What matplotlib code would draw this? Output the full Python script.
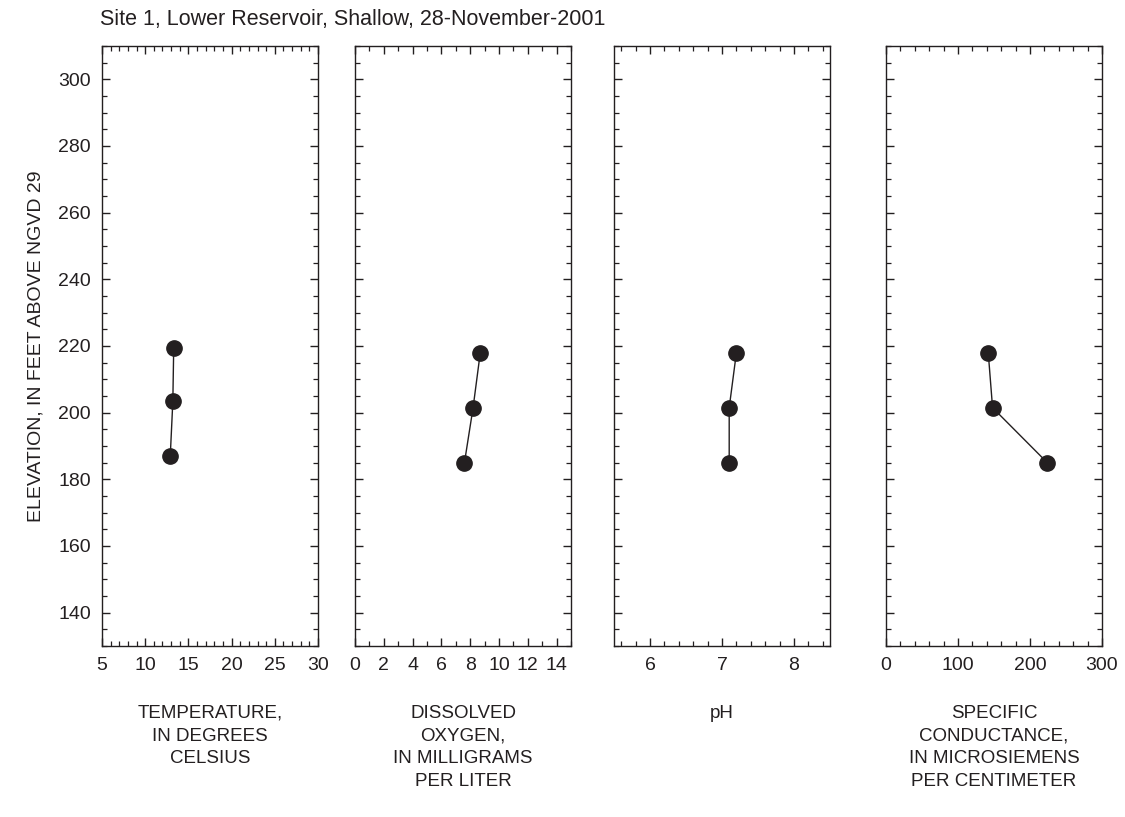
import matplotlib
matplotlib.use("Agg")
import matplotlib.pyplot as plt
from matplotlib.ticker import MultipleLocator

plt.rcParams['font.family'] = ['Liberation Sans', 'DejaVu Sans']

# elevations of the three sampling depths (feet above NGVD 29)
elev_temp = [219.5, 203.5, 187.0]
elev = [218.0, 201.5, 185.0]

temperature = [13.3, 13.2, 12.9]
dissolved_oxygen = [8.7, 8.2, 7.6]
ph = [7.2, 7.1, 7.1]
conductance = [142, 148, 224]

title = "Site 1, Lower Reservoir, Shallow, 28-November-2001"
ylabel = "ELEVATION, IN FEET ABOVE NGVD 29"
xlabels = ["TEMPERATURE,\nIN DEGREES\nCELSIUS",
           "DISSOLVED\nOXYGEN,\nIN MILLIGRAMS\nPER LITER",
           "pH",
           "SPECIFIC\nCONDUCTANCE,\nIN MICROSIEMENS\nPER CENTIMETER"]

W, H = 1125, 817
fig = plt.figure(figsize=(W / 100, H / 100), dpi=100)

# panel positions in pixels: left, right
panels = [(102, 318), (355, 571), (614, 830), (886, 1102)]
top_px, bot_px = 46, 646

series = [(temperature, elev_temp), (dissolved_oxygen, elev), (ph, elev), (conductance, elev)]
xlims = [(5, 30), (0, 15), (5.5, 8.5), (0, 300)]
minors = [1, 1, 0.2, 20]
xticks = [[5, 10, 15, 20, 25, 30], list(range(0, 15, 2)), [6, 7, 8], [0, 100, 200, 300]]

ink = '#231f20'
for i, (l, r) in enumerate(panels):
    ax = fig.add_axes([l / W, 1 - bot_px / H, (r - l) / W, (bot_px - top_px) / H])
    xs, ys = series[i]
    ax.plot(xs, ys, color=ink, lw=1.0, marker='o', ms=11, mfc=ink, mec=ink)
    ax.set_xlim(*xlims[i])
    ax.set_ylim(130, 310)
    ax.set_xticks(xticks[i])
    ax.xaxis.set_minor_locator(MultipleLocator(minors[i]))
    ax.yaxis.set_major_locator(MultipleLocator(20))
    ax.yaxis.set_minor_locator(MultipleLocator(5))
    ax.tick_params(which='both', direction='in', top=True, right=True,
                   labelsize=14, color=ink, labelcolor=ink)
    ax.tick_params(which='major', length=6, width=1.0, pad=8)
    ax.tick_params(which='minor', length=3.5, width=0.9)
    for s in ax.spines.values():
        s.set_linewidth(1.0)
        s.set_color(ink)
    if i == 0:
        ax.set_yticks(range(140, 301, 20))
        ax.set_ylabel(ylabel, fontsize=14, color=ink, labelpad=10)
    else:
        ax.tick_params(labelleft=False)
    ax.set_xlabel(xlabels[i], fontsize=13.5, color=ink, labelpad=22,
                  linespacing=1.45, va='top')

fig.text(100 / W, 1 - 20 / H, title, fontsize=15.5, color=ink, va='center')

fig.savefig("out.png", dpi=100)
